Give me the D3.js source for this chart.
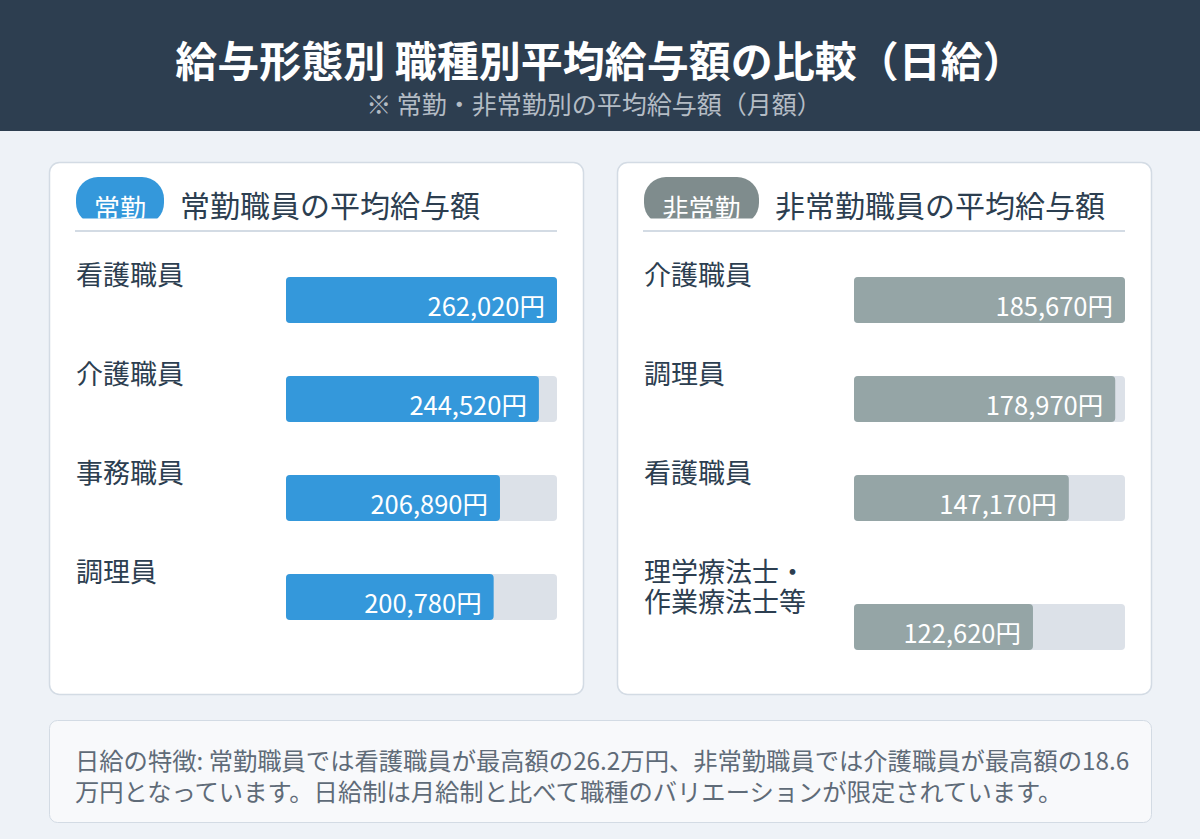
<!DOCTYPE html>
<html><head><meta charset="utf-8">
<script src="https://cdn.jsdelivr.net/npm/d3@7"></script>
<style>
html,body{margin:0;padding:0;background:#eef2f7;}
svg{display:block;font-family:"Noto Sans CJK JP","Noto Sans",sans-serif;}
</style></head>
<body>
<svg id="chart" width="1200" height="839"></svg>
<script>
const titleText = "給与形態別 職種別平均給与額の比較（日給）";
const subtitleText = "※ 常勤・非常勤別の平均給与額（月額）";
const fullTimeBadge = "常勤";
const fullTimeHeading = "常勤職員の平均給与額";
const fullTimeCategories = [["看護職員"],["介護職員"],["事務職員"],["調理員"]];
const fullTimeValues = [262020,244520,206890,200780];
const partTimeBadge = "非常勤";
const partTimeHeading = "非常勤職員の平均給与額";
const partTimeCategories = [["介護職員"],["調理員"],["看護職員"],["理学療法士・","作業療法士等"]];
const partTimeValues = [185670,178970,147170,122620];
const footerLines = [
  "日給の特徴: 常勤職員では看護職員が最高額の26.2万円、非常勤職員では介護職員が最高額の18.6",
  "万円となっています。日給制は月給制と比べて職種のバリエーションが限定されています。"
];

const svg = d3.select("#chart");
const W = 1200, H = 839;
const dark = "#2c3e50";
svg.append("rect").attr("width",W).attr("height",H).attr("fill","#eef2f7");
svg.append("rect").attr("width",W).attr("height",131).attr("fill","#2d3e50");
svg.append("text").attr("x",600).attr("y",77).attr("text-anchor","middle")
  .attr("fill","#fff").attr("font-size",42).attr("font-weight",700).text(titleText);
svg.append("text").attr("x",594).attr("y",114).attr("text-anchor","middle")
  .attr("fill","#b4bcc5").attr("font-size",25).text(subtitleText);

const fmt = d3.format(",");
const defs = svg.append("defs");

function panel(px, badge, badgeW, badgeColor, heading, cats, vals, barColor, id){
  const g = svg.append("g").attr("transform",`translate(${px},0)`);
  g.append("rect").attr("x",0.5).attr("y",162.5).attr("width",534).attr("height",532)
    .attr("rx",10).attr("fill","#fff").attr("stroke","#d3dbe4").attr("stroke-width",1.5);
  defs.append("clipPath").attr("id","clip"+id).append("rect")
    .attr("x",px).attr("y",170).attr("width",300).attr("height",48.5);
  const bg = svg.append("g").attr("clip-path",`url(#clip${id})`);
  bg.append("rect").attr("x",px+27).attr("y",177).attr("width",badgeW).attr("height",48)
    .attr("rx",22).attr("fill",badgeColor);
  bg.append("text").attr("x",px+27+badgeW/2).attr("y",218).attr("text-anchor","middle")
    .attr("fill","#fff").attr("font-size",26).text(badge);
  g.append("text").attr("x",27+badgeW+16).attr("y",217).attr("fill",dark)
    .attr("font-size",30).text(heading);
  g.append("line").attr("x1",26).attr("x2",508).attr("y1",231).attr("y2",231)
    .attr("stroke","#d3dbe4").attr("stroke-width",2);

  const x = d3.scaleLinear().domain([0,d3.max(vals)]).range([0,271]);
  let y0 = 277;
  cats.forEach((lines,i)=>{
    const t = g.append("text").attr("fill",dark).attr("font-size",27);
    lines.forEach((l,j)=>t.append("tspan").attr("x",27).attr("y",y0+8+j*30).text(l));
    const by = y0 + (lines.length-1)*30;
    g.append("rect").attr("x",237).attr("y",by).attr("width",271).attr("height",46)
      .attr("rx",4).attr("fill","#dce1e8");
    g.append("rect").attr("x",237).attr("y",by).attr("width",x(vals[i])).attr("height",46)
      .attr("rx",4).attr("fill",barColor);
    g.append("text").attr("x",237+x(vals[i])-12).attr("y",by+39).attr("text-anchor","end")
      .attr("fill","#fff").attr("font-size",25.5).text(fmt(vals[i])+"円");
    y0 = by + 99;
  });
}
panel(49, fullTimeBadge, 88, "#3498db", fullTimeHeading, fullTimeCategories, fullTimeValues, "#3498db", "a");
panel(617, partTimeBadge, 115, "#7f8c8d", partTimeHeading, partTimeCategories, partTimeValues, "#95a5a6", "b");

svg.append("rect").attr("x",49.5).attr("y",720.5).attr("width",1102).attr("height",102)
  .attr("rx",8).attr("fill","#f8f9fb").attr("stroke","#d3dbe4").attr("stroke-width",1);
footerLines.forEach((l,i)=>svg.append("text").attr("x",75).attr("y",770+i*31)
  .attr("fill","#5f6b78").attr("font-size",24.3).text(l));
</script>
</body></html>
